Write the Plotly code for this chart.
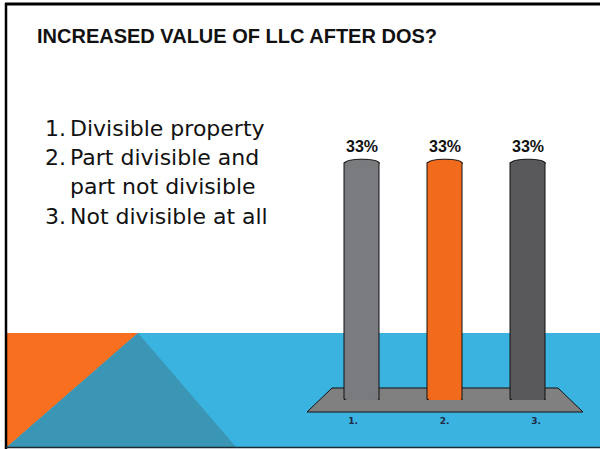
import plotly.graph_objects as go

# ---- content -------------------------------------------------------------
title = "INCREASED VALUE OF LLC AFTER DOS?"
item_numbers = ["1.", "2.", "3."]
item_lines = [["Divisible property"],
              ["Part divisible and", "part not divisible"],
              ["Not divisible at all"]]

categories = ["1.", "2.", "3."]
percent_values = [33, 33, 33]
bar_colors = ["#7A7B7E", "#F26B1D", "#59595B"]

# ---- page geometry helpers (pixel -> paper) -----------------------------
W, H = 600, 449


def fx(p):
    return p / W


def fy(p):
    return 1 - p / H


ORANGE = "#F86F1F"
BLUE = "#3BB3E0"
TEAL = "#3A96B4"

shapes = []
# blue band along the bottom of the slide
shapes.append(dict(type="rect", xref="paper", yref="paper", layer="below",
                   x0=fx(7), x1=1, y0=fy(447), y1=fy(333),
                   fillcolor=BLUE, line=dict(width=0)))
# orange corner triangle
shapes.append(dict(type="path", xref="paper", yref="paper", layer="below",
                   path=f"M {fx(7)},{fy(333)} L {fx(138)},{fy(333)} L {fx(7)},{fy(447)} Z",
                   fillcolor=ORANGE, line=dict(width=0)))
# teal triangle
shapes.append(dict(type="path", xref="paper", yref="paper", layer="below",
                   path=f"M {fx(138)},{fy(333)} L {fx(236)},{fy(447)} L {fx(7)},{fy(447)} Z",
                   fillcolor=TEAL, line=dict(width=0)))
# chart floor
shapes.append(dict(type="path", xref="paper", yref="paper", layer="below",
                   path=(f"M {fx(332)},{fy(388)} L {fx(558)},{fy(388)} "
                         f"L {fx(583)},{fy(412)} L {fx(307)},{fy(412)} Z"),
                   fillcolor="#808080", line=dict(color="#111111", width=1)))
# slide frame
shapes.append(dict(type="line", xref="paper", yref="paper", layer="above",
                   x0=fx(5), x1=1, y0=fy(4), y1=fy(4),
                   line=dict(color="#000000", width=3)))
shapes.append(dict(type="line", xref="paper", yref="paper", layer="above",
                   x0=fx(6), x1=fx(6), y0=fy(3), y1=0,
                   line=dict(color="#000000", width=2.5)))
shapes.append(dict(type="line", xref="paper", yref="paper", layer="above",
                   x0=fx(6), x1=1, y0=fy(447.5), y1=fy(447.5),
                   line=dict(color="#1B2A33", width=1.5)))

# cylinder caps, built from the bar values on the data axes
BAR_W = 0.42
Y_MAX = 40
CAP = 0.55
for i, (v, c) in enumerate(zip(percent_values, bar_colors)):
    for yy in (0, v):
        # outlined ellipse sits under the bar: only its outer arc shows
        shapes.append(dict(type="circle", xref="x", yref="y", layer="below",
                           x0=i - BAR_W / 2, x1=i + BAR_W / 2,
                           y0=yy - CAP, y1=yy + CAP,
                           fillcolor=c, line=dict(color="#111111", width=1)))
        # plain ellipse above the bar hides the straight edge
        shapes.append(dict(type="circle", xref="x", yref="y", layer="above",
                           x0=i - BAR_W / 2 + 0.012, x1=i + BAR_W / 2 - 0.012,
                           y0=yy - CAP + 0.12, y1=yy + CAP - 0.12,
                           fillcolor=c, line=dict(width=0)))

fig = go.Figure()
fig.add_trace(go.Bar(
    x=categories, y=percent_values, width=BAR_W,
    marker=dict(color=bar_colors, line=dict(color="#111111", width=1)),
    showlegend=False, hoverinfo="skip", xaxis="x", yaxis="y",
))
# category labels sit on the front edge of the floor
fig.add_trace(go.Scatter(
    x=categories, y=[0] * len(categories), mode="markers",
    marker=dict(opacity=0), showlegend=False, hoverinfo="skip",
    xaxis="x2", yaxis="y",
))

annotations = []
annotations.append(dict(text=title, xref="paper", yref="paper",
                        x=fx(35), y=fy(36), xanchor="left", yanchor="middle",
                        showarrow=False,
                        font=dict(family="Liberation Sans, Arial, sans-serif",
                                  size=20, color="#111111", weight="bold")))

line_centers = [[128], [158, 186], [216]]
for num, lines, centers in zip(item_numbers, item_lines, line_centers):
    annotations.append(dict(text=num, xref="paper", yref="paper",
                            x=fx(43), y=fy(centers[0]), xanchor="left", yanchor="middle",
                            showarrow=False,
                            font=dict(family="DejaVu Sans, sans-serif", size=22, color="#111111")))
    for txt, cy in zip(lines, centers):
        annotations.append(dict(text=txt, xref="paper", yref="paper",
                                x=fx(68), y=fy(cy), xanchor="left", yanchor="middle",
                                showarrow=False,
                                font=dict(family="DejaVu Sans, sans-serif", size=22, color="#111111")))

# value labels above each cylinder (index positions on the category axis)
for i, v in enumerate(percent_values):
    annotations.append(dict(text=f"{v}%", x=i, y=v, xref="x", yref="y",
                            yanchor="middle", yshift=17, showarrow=False,
                            font=dict(family="Liberation Sans, Arial, sans-serif",
                                      size=16, color="#111111", weight="bold")))

fig.update_layout(
    width=W, height=H,
    margin=dict(l=0, r=0, t=0, b=0),
    paper_bgcolor="#FFFFFF",
    plot_bgcolor="rgba(0,0,0,0)",
    shapes=shapes,
    annotations=annotations,
    bargap=0,
    xaxis=dict(domain=[fx(320.5), fx(569.5)], anchor="y", type="category",
               categoryarray=categories, range=[-0.5, 2.5],
               showticklabels=False, showgrid=False, zeroline=False,
               showline=False, ticks=""),
    xaxis2=dict(domain=[fx(307.25), fx(581.75)], anchor="free", position=fy(414),
                type="category", categoryarray=categories, range=[-0.5, 2.5],
                showgrid=False, zeroline=False, showline=False, ticks="",
                tickfont=dict(family="DejaVu Sans, sans-serif", size=9,
                              color="#1F2A44", weight="bold")),
    yaxis=dict(domain=[fy(400), fy(112.9)], range=[0, Y_MAX],
               visible=False, showgrid=False, zeroline=False),
)

fig.write_html("out.html")
